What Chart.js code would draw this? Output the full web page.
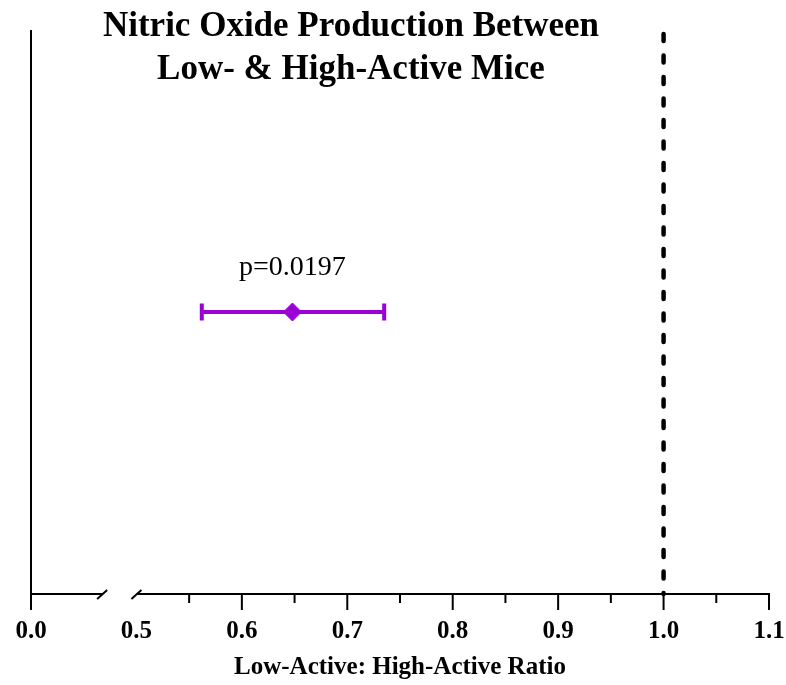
<!DOCTYPE html>
<html>
<head>
<meta charset="utf-8">
<script src="https://cdn.jsdelivr.net/npm/chart.js@4/dist/chart.umd.min.js"></script>
<style>
  html, body { margin: 0; padding: 0; background: #ffffff; }
  #wrap { width: 786px; height: 685px; }
</style>
</head>
<body>
<div id="wrap"><canvas id="chart" width="786" height="685"></canvas></div>
<script>
// Chart text
const titleLines = ['Nitric Oxide Production Between', 'Low- & High-Active Mice'];
const xTitle = 'Low-Active: High-Active Ratio';

// Ratio estimate with its interval, one row per comparison
const comparisons = ['Low-Active : High-Active'];
const ratioMean = [0.648];
const ratioLower = [0.562];
const ratioUpper = [0.735];
const pLabels = ['p=0.0197'];
const rowPosition = [1];

// No-difference reference line
const referenceRatio = [1.0];

// Broken x axis: the 0.0–0.5 stretch is squeezed into a single 0.1 step,
// so the "0.0" label sits at scale value 0.4.
const tickValues = [0.4, 0.5, 0.6, 0.7, 0.8, 0.9, 1.0, 1.1];
const tickLabels = ['0.0', '0.5', '0.6', '0.7', '0.8', '0.9', '1.0', '1.1'];
const minorTickValues = [0.55, 0.65, 0.75, 0.85, 0.95, 1.05];
const axisBreak = [0.4675, 0.5];

const PURPLE = '#9b00d5';
const SERIF = '"Liberation Serif", "Times New Roman", serif';

const decorations = {
  id: 'decorations',
  beforeDatasetsDraw(chart) {
    const { ctx, chartArea: a, scales: { x, y } } = chart;
    ctx.save();

    // dashed reference line
    ctx.strokeStyle = '#000';
    ctx.lineWidth = 4.5;
    ctx.lineCap = 'round';
    ctx.setLineDash([7, 14.5]);
    referenceRatio.forEach(v => {
      const px = x.getPixelForValue(v);
      ctx.beginPath();
      ctx.moveTo(px, a.top + 4);
      ctx.lineTo(px, a.bottom);
      ctx.stroke();
    });
    ctx.setLineDash([]);
    ctx.lineCap = 'butt';

    // y axis line
    ctx.lineWidth = 2;
    ctx.beginPath();
    ctx.moveTo(a.left, a.top);
    ctx.lineTo(a.left, a.bottom + 1);
    ctx.stroke();

    // x axis line in two pieces around the break
    const b0 = x.getPixelForValue(axisBreak[0]);
    const b1 = x.getPixelForValue(axisBreak[1]);
    ctx.beginPath();
    ctx.moveTo(a.left - 1, a.bottom);
    ctx.lineTo(b0, a.bottom);
    ctx.moveTo(b1, a.bottom);
    ctx.lineTo(a.right + 1, a.bottom);
    ctx.stroke();

    // break slashes
    [b0, b1].forEach(px => {
      ctx.beginPath();
      ctx.moveTo(px - 5, a.bottom + 5);
      ctx.lineTo(px + 5, a.bottom - 4);
      ctx.stroke();
    });

    // major ticks (the 0.5 position carries the break mark instead)
    tickValues.forEach(v => {
      if (v === axisBreak[1]) return;
      const px = x.getPixelForValue(v);
      ctx.beginPath();
      ctx.moveTo(px, a.bottom);
      ctx.lineTo(px, a.bottom + 16);
      ctx.stroke();
    });
    // minor ticks
    minorTickValues.forEach(v => {
      const px = x.getPixelForValue(v);
      ctx.beginPath();
      ctx.moveTo(px, a.bottom);
      ctx.lineTo(px, a.bottom + 9);
      ctx.stroke();
    });

    // interval bars with end caps
    ctx.strokeStyle = PURPLE;
    ctx.lineWidth = 4;
    ratioMean.forEach((m, i) => {
      const x0 = x.getPixelForValue(ratioLower[i]);
      const x1 = x.getPixelForValue(ratioUpper[i]);
      const py = y.getPixelForValue(rowPosition[i]);
      ctx.beginPath();
      ctx.moveTo(x0, py);
      ctx.lineTo(x1, py);
      ctx.moveTo(x0, py - 8.5);
      ctx.lineTo(x0, py + 8.5);
      ctx.moveTo(x1, py - 8.5);
      ctx.lineTo(x1, py + 8.5);
      ctx.stroke();
    });
    ctx.restore();
  },
  afterDraw(chart) {
    const { ctx, scales: { x, y } } = chart;
    ctx.save();
    ctx.fillStyle = '#000';
    ctx.textAlign = 'center';
    ctx.textBaseline = 'alphabetic';

    // chart title
    ctx.font = 'bold 35px ' + SERIF;
    ctx.fillText(titleLines[0], 351, 36);
    ctx.fillText(titleLines[1], 351, 79);

    // p-value above each estimate
    ctx.font = '28px ' + SERIF;
    ratioMean.forEach((m, i) => {
      ctx.fillText(pLabels[i], x.getPixelForValue(m), y.getPixelForValue(rowPosition[i]) - 37);
    });
    ctx.restore();
  }
};

new Chart(document.getElementById('chart'), {
  type: 'scatter',
  data: {
    datasets: [{
      label: comparisons[0],
      data: ratioMean.map((m, i) => ({ x: m, y: rowPosition[i] })),
      backgroundColor: PURPLE,
      borderColor: PURPLE,
      pointStyle: 'rectRot',
      pointRadius: 9,
      pointHoverRadius: 9,
      borderWidth: 1
    }]
  },
  options: {
    responsive: false,
    devicePixelRatio: 1,
    animation: false,
    events: [],
    layout: { padding: { left: 31, right: 17, top: 30, bottom: 0 } },
    plugins: {
      legend: { display: false },
      title: { display: false },
      tooltip: { enabled: false }
    },
    scales: {
      x: {
        type: 'linear',
        min: tickValues[0],
        max: tickValues[tickValues.length - 1],
        grid: { display: false, drawTicks: false },
        border: { display: false },
        afterBuildTicks(scale) {
          scale.ticks = tickValues.map(v => ({ value: v }));
        },
        afterFit(scale) {
          scale.height = 91;
          scale.paddingLeft = 0;
          scale.paddingRight = 0;
        },
        ticks: {
          autoSkip: false,
          maxRotation: 0,
          padding: 23,
          color: '#000',
          font: { family: SERIF, size: 25, weight: 'bold' },
          callback(value) {
            const i = tickValues.findIndex(t => Math.abs(t - value) < 1e-9);
            return i >= 0 ? tickLabels[i] : '';
          }
        },
        title: {
          display: true,
          text: xTitle,
          color: '#000',
          font: { family: SERIF, size: 25, weight: 'bold' },
          padding: { top: 0, bottom: 2 }
        }
      },
      y: {
        display: false,
        min: 0,
        max: 2
      }
    }
  },
  plugins: [decorations]
});
</script>
</body>
</html>
